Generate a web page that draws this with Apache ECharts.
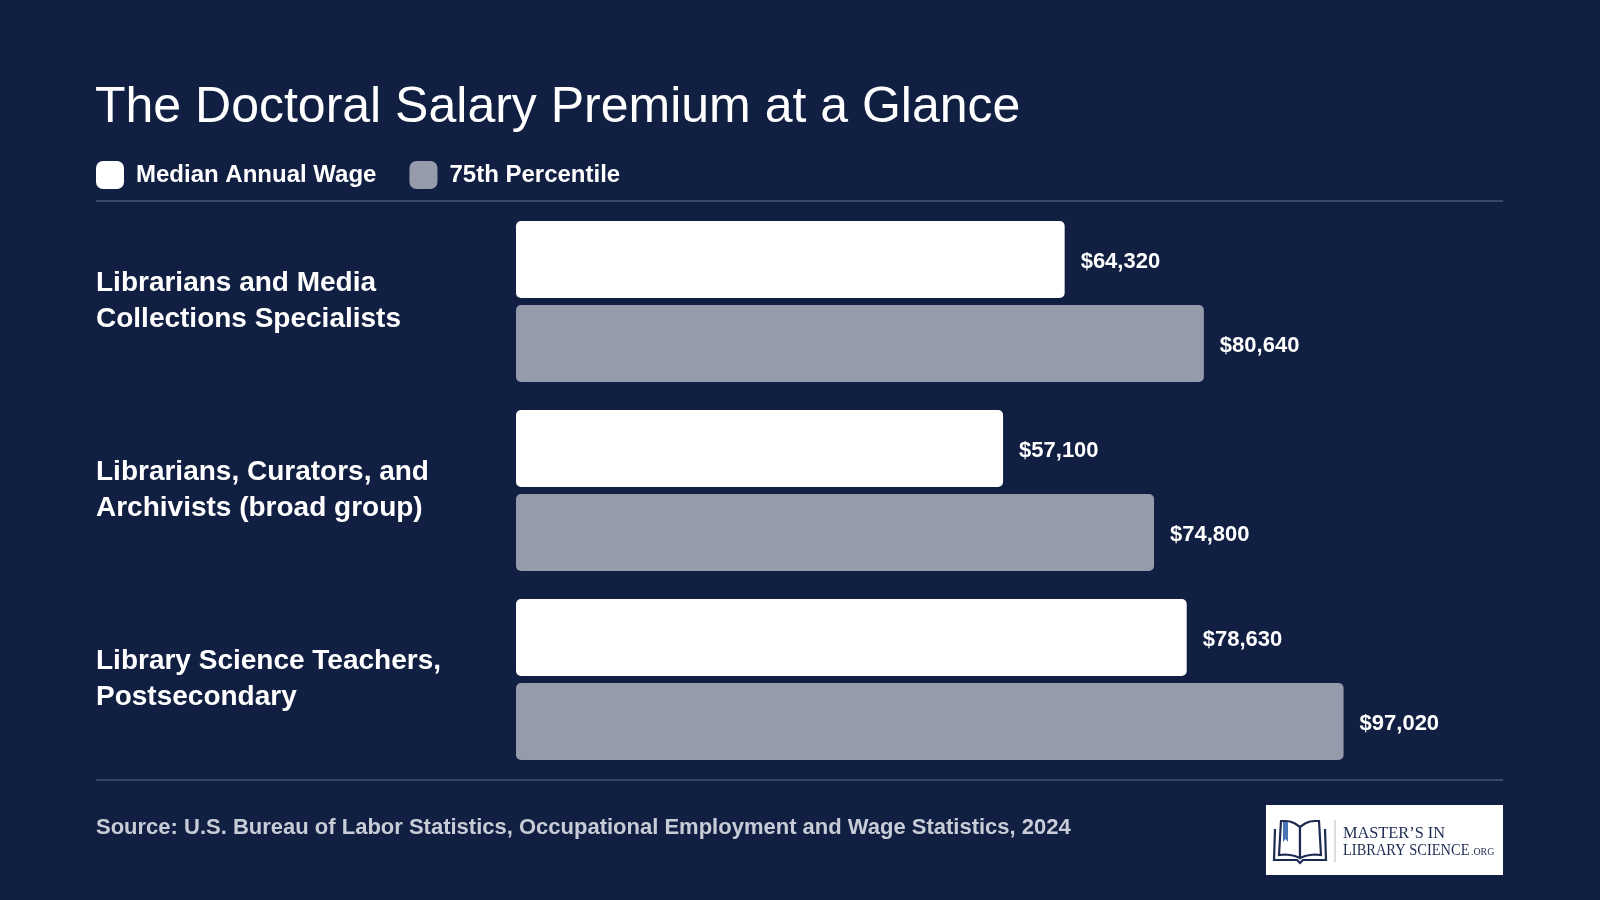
<!DOCTYPE html>
<html>
<head>
<meta charset="utf-8">
<title>The Doctoral Salary Premium at a Glance</title>
<script src="https://cdn.jsdelivr.net/npm/echarts@6/dist/echarts.min.js"></script>
<style>
  html, body { margin: 0; padding: 0; background: #112042; }
  #chart { width: 1600px; height: 900px; }
</style>
</head>
<body>
<div id="chart"></div>
<script>
// data
const categories = [
  'Librarians and Media\nCollections Specialists',
  'Librarians, Curators, and\nArchivists (broad group)',
  'Library Science Teachers,\nPostsecondary'
];
const medianWage = [64320, 57100, 78630];
const pct75Wage = [80640, 74800, 97020];
const seriesNames = ['Median Annual Wage', '75th Percentile'];

const BG = '#112042';
const WHITE = '#ffffff';
const GREY = '#959bab';
const FONT = '"Liberation Sans", Arial, Helvetica, sans-serif';
const SERIF = '"Liberation Serif", "DejaVu Serif", serif';
const NAVY = '#1d2b52';

const money = v => '$' + Number(v).toLocaleString('en-US');

const chart = echarts.init(document.getElementById('chart'));

const valueLabel = {
  show: true, position: 'right', distance: 16, offset: [0, 2],
  color: WHITE, fontFamily: FONT, fontWeight: 'bold', fontSize: 22,
  formatter: p => money(p.value)
};

// little open-book icon for the logo box
const leftPage = [[1300, 827], [1295, 823.5], [1290, 821.5], [1285, 821], [1281, 821], [1279, 855], [1285, 854.5], [1290, 855], [1295, 856], [1300, 858]];
const rightPage = leftPage.map(p => [2600 - p[0], p[1]]);

const option = {
  backgroundColor: BG,
  animation: false,
  title: {
    text: 'The Doctoral Salary Premium at a Glance',
    left: 95,
    top: 83,
    padding: 0,
    textStyle: { color: WHITE, fontFamily: FONT, fontWeight: 'normal', fontSize: 50 }
  },
  legend: {
    left: 96,
    top: 161,
    padding: 0,
    itemWidth: 28,
    itemHeight: 28,
    itemGap: 33,
    icon: 'roundRect',
    data: [
      { name: seriesNames[0], itemStyle: { color: WHITE } },
      { name: seriesNames[1], itemStyle: { color: GREY } }
    ],
    textStyle: { color: WHITE, fontFamily: FONT, fontWeight: 'bold', fontSize: 24, padding: [0, 0, 0, 7] }
  },
  grid: { left: 516, top: 207, width: 853, height: 567 },
  xAxis: {
    type: 'value',
    min: 0,
    max: 100000,
    show: false
  },
  yAxis: {
    type: 'category',
    inverse: true,
    data: categories,
    axisLine: { show: false },
    axisTick: { show: false },
    splitLine: { show: false },
    axisLabel: {
      align: 'left',
      margin: 420,
      color: WHITE,
      fontFamily: FONT,
      fontWeight: 'bold',
      fontSize: 28,
      lineHeight: 36,
      padding: [9, 0, 0, 0]
    }
  },
  series: [
    {
      name: seriesNames[0],
      type: 'bar',
      data: medianWage,
      barWidth: 77,
      barGap: '9%',
      itemStyle: { color: WHITE, borderRadius: 5 },
      label: valueLabel
    },
    {
      name: seriesNames[1],
      type: 'bar',
      data: pct75Wage,
      barWidth: 77,
      itemStyle: { color: GREY, borderRadius: 5 },
      label: valueLabel
    }
  ],
  graphic: [
    { type: 'line', shape: { x1: 96, y1: 201, x2: 1503, y2: 201 }, style: { stroke: '#3a4767', lineWidth: 2 } },
    { type: 'line', shape: { x1: 96, y1: 780, x2: 1503, y2: 780 }, style: { stroke: '#3a4767', lineWidth: 2 } },
    {
      type: 'text', x: 96, y: 828,
      style: {
        text: 'Source: U.S. Bureau of Labor Statistics, Occupational Employment and Wage Statistics, 2024',
        fill: '#c7ccd7', font: 'bold 22px ' + FONT, textVerticalAlign: 'middle'
      }
    },
    // logo box
    {
      type: 'group',
      children: [
        { type: 'rect', shape: { x: 1266, y: 805, width: 237, height: 70 }, style: { fill: WHITE } },
        { type: 'polygon', shape: { points: leftPage }, style: { stroke: NAVY, lineWidth: 2.2, fill: WHITE } },
        { type: 'polygon', shape: { points: rightPage }, style: { stroke: NAVY, lineWidth: 2.2, fill: WHITE } },
        { type: 'polyline', shape: { points: [[1275, 829], [1274, 860], [1297, 860], [1300, 863], [1303, 860], [1326, 860], [1325, 829]] }, style: { stroke: NAVY, lineWidth: 2.2, fill: null } },
        { type: 'polygon', shape: { points: [[1283, 822], [1288, 822], [1288, 842], [1285.5, 839], [1283, 842]] }, style: { fill: '#4a73b5' } },
        { type: 'line', shape: { x1: 1335, y1: 820, x2: 1335, y2: 862 }, style: { stroke: '#b8bcc6', lineWidth: 1 } },
        {
          type: 'group', x: 1343, y: 0,
          children: [
            { type: 'text', x: 0, y: 842, scaleX: 0.96, style: { text: 'MASTER\u2019S IN', fill: NAVY, font: '17px ' + SERIF, textVerticalAlign: 'bottom' } },
            { type: 'text', x: 0, y: 859, scaleX: 0.85, style: { text: 'LIBRARY SCIENCE', fill: NAVY, font: '17px ' + SERIF, textVerticalAlign: 'bottom' } },
            { type: 'text', x: 128, y: 858, scaleX: 0.9, style: { text: '.ORG', fill: NAVY, font: '11px ' + SERIF, textVerticalAlign: 'bottom' } }
          ]
        }
      ]
    }
  ]
};

chart.setOption(option);
window.addEventListener('resize', () => chart.resize());
</script>
</body>
</html>
